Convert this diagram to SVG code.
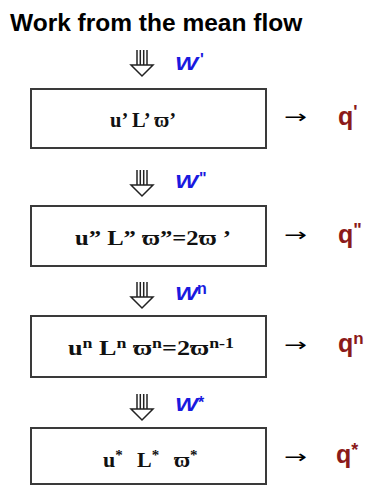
<svg xmlns="http://www.w3.org/2000/svg" width="372" height="485" viewBox="0 0 372 485">
<style>
.title{font-family:"Liberation Sans",Arial,sans-serif;font-weight:bold;font-size:24.5px;fill:#000}
.box{fill:#fff;stroke:#3a3a3a;stroke-width:2}
.eq{font-family:"Liberation Serif","Times New Roman",serif;font-weight:bold;font-size:22px;fill:#111}
.w{font-family:"Liberation Sans",Arial,sans-serif;font-weight:bold;font-style:italic;font-size:19px;fill:#1a1adf}
.ws{font-family:"Liberation Sans",Arial,sans-serif;font-weight:bold;font-size:16px;fill:#1a1adf}
.q{font-family:"Liberation Sans",Arial,sans-serif;font-weight:bold;font-size:25px;fill:#8b1a1a}
.arr{font-family:"DejaVu Sans",sans-serif;font-size:18px;fill:#000}
.ic{fill:none;stroke:#222;stroke-width:1.5}
</style>
<defs>
<g id="hollow">
<line x1="-5" y1="0" x2="-5" y2="15" class="ic"/>
<line x1="-1.7" y1="0" x2="-1.7" y2="15" class="ic"/>
<line x1="1.7" y1="0" x2="1.7" y2="15" class="ic"/>
<line x1="5" y1="0" x2="5" y2="15" class="ic"/>
<polygon points="-11,15 11,15 0,26" class="ic" fill="#fff"/>
</g>
</defs>
<text class="title" x="10" y="31">Work from the mean flow</text>

<g id="connectors">
<use href="#hollow" x="142" y="50"/>
<use href="#hollow" x="142" y="170"/>
<use href="#hollow" x="142" y="282"/>
<use href="#hollow" x="142" y="394"/>
<text class="w" x="175" y="70" textLength="23" lengthAdjust="spacingAndGlyphs">W</text>
<text class="ws" x="200" y="65">'</text>
<text class="w" x="175" y="188" textLength="23" lengthAdjust="spacingAndGlyphs">W</text>
<text class="ws" x="199" y="184">"</text>
<text class="w" x="175" y="300" textLength="23" lengthAdjust="spacingAndGlyphs">W</text>
<text class="ws" x="197" y="294">n</text>
<text class="w" x="175" y="411" textLength="23" lengthAdjust="spacingAndGlyphs">W</text>
<text class="ws" x="198" y="408">*</text>
<text class="arr" x="284" y="123" textLength="23" lengthAdjust="spacingAndGlyphs">→</text>
<text class="arr" x="284" y="241" textLength="23" lengthAdjust="spacingAndGlyphs">→</text>
<text class="arr" x="284" y="351" textLength="23" lengthAdjust="spacingAndGlyphs">→</text>
<text class="arr" x="284" y="463" textLength="23" lengthAdjust="spacingAndGlyphs">→</text>
</g>

<g id="node1">
<rect class="box" x="31" y="89" width="235" height="59"/>
<text class="eq" x="110" y="127" textLength="66" lengthAdjust="spacingAndGlyphs">u’ L’ ϖ’</text>
</g>
<g id="node2">
<rect class="box" x="31" y="206" width="235" height="60"/>
<text class="eq" x="75" y="245" textLength="156" lengthAdjust="spacingAndGlyphs">u” L” ϖ”=2ϖ ’</text>
</g>
<g id="node3">
<rect class="box" x="31" y="316" width="235" height="61"/>
<text class="eq" x="68" y="355" textLength="166" lengthAdjust="spacingAndGlyphs">u<tspan dy="-7" font-size="15">n</tspan><tspan dy="7"> L</tspan><tspan dy="-7" font-size="15">n</tspan><tspan dy="7"> ϖ</tspan><tspan dy="-7" font-size="15">n</tspan><tspan dy="7">=2ϖ</tspan><tspan dy="-7" font-size="15">n-1</tspan></text>
</g>
<g id="node4">
<rect class="box" x="31" y="428" width="235" height="56"/>
<text class="eq" y="467"><tspan x="103">u</tspan><tspan dy="-7" font-size="15">*</tspan><tspan x="137" dy="7">L</tspan><tspan dy="-7" font-size="15">*</tspan><tspan x="174" dy="7">ϖ</tspan><tspan dy="-7" font-size="15">*</tspan></text>
</g>
<g id="q1"><text class="q" x="338" y="125">q<tspan font-size="18" dy="-7">'</tspan></text></g>
<g id="q2"><text class="q" x="338" y="243">q<tspan font-size="18" dy="-7">"</tspan></text></g>
<g id="q3"><text class="q" x="338" y="352">q<tspan font-size="17" dy="-8">n</tspan></text></g>
<g id="q4"><text class="q" x="336" y="463">q<tspan font-size="18" dy="-7">*</tspan></text></g>
</svg>
